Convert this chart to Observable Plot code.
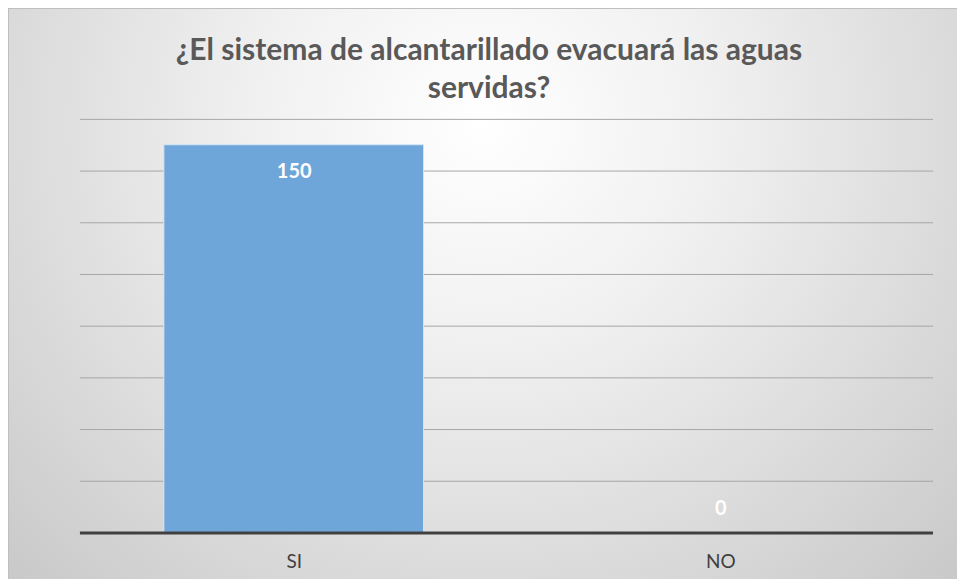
<!DOCTYPE html>
<html>
<head>
<meta charset="utf-8">
<script src="https://cdn.jsdelivr.net/npm/d3@7"></script>
<script src="https://cdn.jsdelivr.net/npm/@observablehq/plot@0.6"></script>
<style>
  html, body { margin: 0; padding: 0; background: #ffffff; }
  #frame {
    position: absolute; left: 8px; top: 8px; width: 949px; height: 571px;
    background: radial-gradient(ellipse farthest-corner at 50% 20%, #ffffff 0%, #f0f0f0 35%, #c9c9c9 100%);
    border-top: 1px solid #bfbfbf; border-left: 1px solid #bfbfbf; box-sizing: border-box;
    overflow: hidden;
  }
  #title {
    position: absolute; left: 0; top: 20px; width: 960px; text-align: center;
    font-family: Lato, "Open Sans", sans-serif; font-weight: bold; font-size: 30px;
    line-height: 38px; color: #595959;
  }
  #chart { position: absolute; left: 0; top: 0; }
</style>
</head>
<body>
<div id="frame">
  <div id="title">¿El sistema de alcantarillado evacuará las aguas<br>servidas?</div>
  <div id="chart"></div>
</div>
<script>
const categories = ["SI", "NO"];
const values = [150, 0];
const gridTicks = [20, 40, 60, 80, 100, 120, 140, 160];

const data = categories.map((c, i) => ({category: c, value: values[i]}));

const plot = Plot.plot({
  width: 949,
  height: 571,
  marginLeft: 71,
  marginRight: 24,
  marginTop: 110,
  marginBottom: 47,
  style: {background: "transparent", fontFamily: "Lato, 'Open Sans', sans-serif"},
  x: {domain: categories, paddingInner: 0.392, paddingOuter: 0.196, label: null},
  y: {domain: [0, 160], axis: null},
  marks: [
    Plot.ruleY(gridTicks, {stroke: "#a6a6a6", strokeWidth: 1}),
    Plot.barY(data, {x: "category", y: "value", fill: "#6fa6d9", stroke: "#d6e6f4", strokeWidth: 1}),
    Plot.ruleY([0], {stroke: "#404040", strokeWidth: 3}),
    Plot.text(data.filter(d => d.value > 0), {x: "category", y: "value", text: d => String(d.value), dy: 26, fill: "white", fontWeight: "bold", fontSize: 20}),
    Plot.text(data.filter(d => d.value === 0), {x: "category", y: "value", text: d => String(d.value), dy: -24, fill: "white", fontWeight: "bold", fontSize: 20}),
    Plot.axisX({tickSize: 0, tickPadding: 22, fontSize: 19, color: "#404040", label: null})
  ]
});
document.getElementById("chart").appendChild(plot);
</script>
</body>
</html>
